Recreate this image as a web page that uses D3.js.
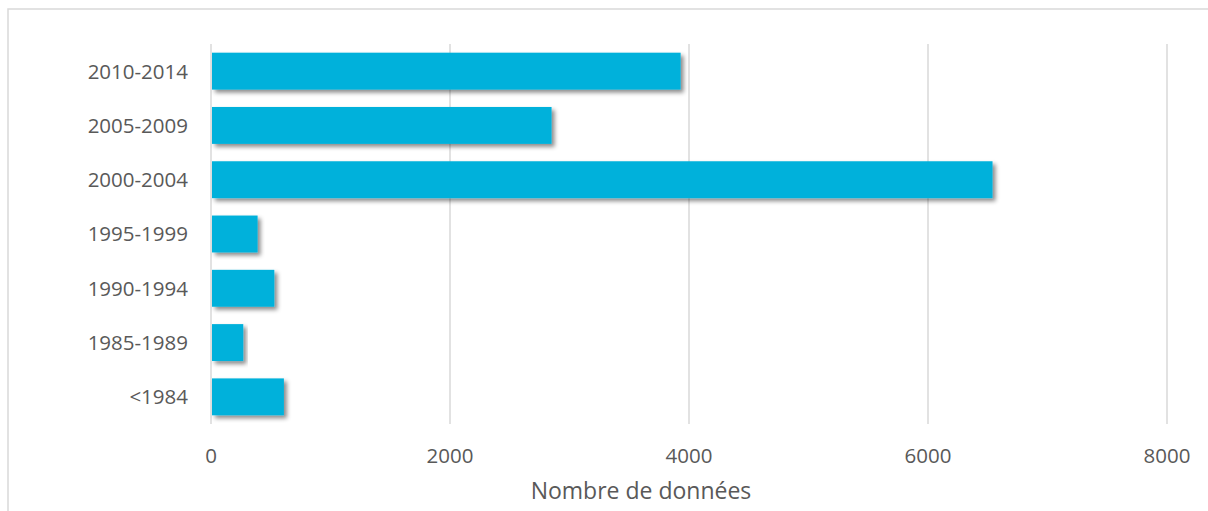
<!DOCTYPE html>
<html>
<head>
<meta charset="utf-8">
<script src="https://cdn.jsdelivr.net/npm/d3@7"></script>
<style>
  body { margin: 0; background: #fff; }
  svg text { font-family: "Open Sans", "Noto Sans", sans-serif; fill: #595959; }
</style>
</head>
<body>
<div id="chart"></div>
<script>
// periods, top to bottom as shown
const periods = ['2010-2014', '2005-2009', '2000-2004', '1995-1999', '1990-1994', '1985-1989', '<1984'];
const counts = [3930, 2850, 6540, 390, 530, 270, 610];
const xTicks = [0, 2000, 4000, 6000, 8000];
const xTitle = 'Nombre de données';

const width = 1208, height = 511;

const svg = d3.select('#chart')
    .append('svg')
    .attr('width', width)
    .attr('height', height);

// shadow under the bars
const defs = svg.append('defs');
defs.append('filter')
    .attr('id', 'shadow')
    .attr('x', '-5%').attr('y', '-20%')
    .attr('width', '120%').attr('height', '160%')
    .append('feDropShadow')
    .attr('dx', 3)
    .attr('dy', 3)
    .attr('stdDeviation', 2)
    .attr('flood-color', '#000')
    .attr('flood-opacity', 0.45);

// chart frame (only top/left visible in the shot)
svg.append('rect')
    .attr('x', 8)
    .attr('y', 9)
    .attr('width', 1400)
    .attr('height', 700)
    .attr('fill', 'none')
    .attr('stroke', '#d9d9d9')
    .attr('stroke-width', 1.5);

const x = d3.scaleLinear()
    .domain([0, 8000])
    .range([211, 1167]);

const y = d3.scaleBand()
    .domain(periods)
    .range([44, 424])
    .paddingInner(0.32)
    .paddingOuter(0.16);

// gridlines
svg.append('g')
    .selectAll('line')
    .data(xTicks)
    .enter()
    .append('line')
    .attr('x1', d => x(d))
    .attr('x2', d => x(d))
    .attr('y1', 44)
    .attr('y2', 424)
    .attr('stroke', '#d9d9d9')
    .attr('stroke-width', 1.5);

// bars
svg.append('g')
    .selectAll('rect')
    .data(periods)
    .enter()
    .append('rect')
    .attr('x', x(0) + 1)
    .attr('y', d => y(d))
    .attr('width', (d, i) => x(counts[i]) - x(0) - 1)
    .attr('height', y.bandwidth())
    .attr('fill', '#00B1DB')
    .attr('filter', 'url(#shadow)');

// category labels
svg.append('g')
    .selectAll('text')
    .data(periods)
    .enter()
    .append('text')
    .attr('x', 188)
    .attr('y', d => y(d) + y.bandwidth() / 2)
    .attr('dy', '0.36em')
    .attr('text-anchor', 'end')
    .attr('font-size', '20.5px')
    .text(d => d);

// value axis labels
svg.append('g')
    .selectAll('text')
    .data(xTicks)
    .enter()
    .append('text')
    .attr('x', d => x(d))
    .attr('y', 462.5)
    .attr('text-anchor', 'middle')
    .attr('font-size', '20.5px')
    .text(d => d);

// axis title
svg.append('text')
    .attr('x', 641)
    .attr('y', 499)
    .attr('text-anchor', 'middle')
    .attr('font-size', '23px')
    .text(xTitle);
</script>
</body>
</html>
